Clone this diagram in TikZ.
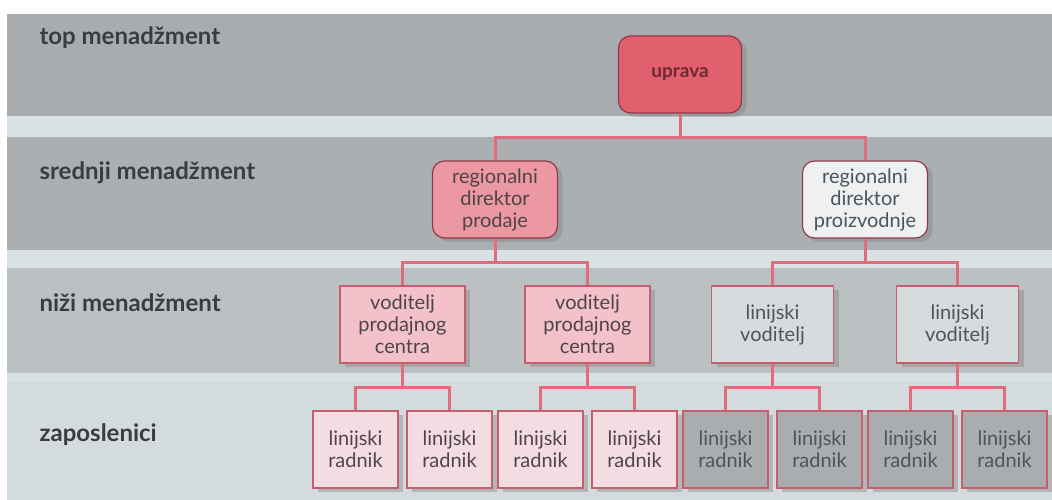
\documentclass[tikz,border=0pt]{standalone}
\usepackage{fontspec}
\setmainfont{Lato}
\usepackage{tikz}
\usetikzlibrary{trees}
\usetikzlibrary{shapes, positioning, shadows}

\definecolor{pagebg}{HTML}{DAE1E4}
\definecolor{bandtop}{HTML}{A8ACAE}
\definecolor{bandmid}{HTML}{ABAFB1}
\definecolor{bandlow}{HTML}{BBC0C2}
\definecolor{bandbase}{HTML}{D4DBDE}
\definecolor{linkred}{HTML}{E06D7C}
\definecolor{rimdark}{HTML}{8E3A48}
\definecolor{rimpink}{HTML}{C75E6E}
\definecolor{upravared}{HTML}{E2606E}
\definecolor{prodajapink}{HTML}{EC98A3}
\definecolor{proizvwhite}{HTML}{EEF0F2}
\definecolor{centarpink}{HTML}{F2C1C9}
\definecolor{linijagray}{HTML}{D6DBDE}
\definecolor{radnikpink}{HTML}{F3DDE2}
\definecolor{radnikgray}{HTML}{A9ADB0}
\definecolor{textred}{HTML}{6E2A33}
\definecolor{textdark}{HTML}{4F4548}
\definecolor{textgray}{HTML}{4E5457}
\definecolor{labelgray}{HTML}{3A3C3E}

\begin{document}
\begin{tikzpicture}[
  x=1pt, y=1pt,
  grow=down,
  level distance=125pt,
  level 1/.style={sibling distance=370pt},
  level 2/.style={sibling distance=185pt},
  level 3/.style={sibling distance=94pt},
  edge from parent/.style={draw=linkred, line width=3pt},
  edge from parent path={(\tikzparentnode.south) -- ++(0,-24) -| (\tikzchildnode.north)},
  every node/.style={align=center},
  boxbase/.style={draw, line width=1.2pt, minimum height=77pt, inner sep=2pt,
    font=\fontsize{20}{22}\selectfont,
    drop shadow={shadow xshift=5pt, shadow yshift=-4pt, opacity=0.4}},
  topbox/.style={boxbase, rounded corners=12pt, draw=rimdark, fill=upravared,
    minimum width=123pt, text=textred, font=\fontsize{19}{22}\selectfont\bfseries},
  regionbox/.style={boxbase, rounded corners=12pt, draw=rimdark, minimum width=125pt},
  centarbox/.style={boxbase, draw=rimpink, fill=centarpink, minimum width=125pt, text=textdark},
  linijabox/.style={boxbase, draw=rimpink, fill=linijagray, minimum width=122pt, text=textgray},
  radnikbox/.style={boxbase, draw=rimpink, minimum width=85pt},
  level label/.style={anchor=base west, text=labelgray,
    font=\fontsize{24}{28}\selectfont\bfseries}
]

% page and bands
\useasboundingbox (0,0) rectangle (1052,500);
\fill[white] (0,0) rectangle (1052,500);
\fill[pagebg] (7,0) rectangle (1052,486);
\fill[bandtop] (7,384) rectangle (1052,486);
\fill[bandmid] (7,250) rectangle (1052,363);
\fill[bandlow] (7,127) rectangle (1052,232);
\fill[bandbase] (7,0) rectangle (1052,118);

% level names
\node[level label] (topL) at (36,455) {top menadžment};
\node[level label] (srednjiL) at (36,320) {srednji menadžment};
\node[level label] (niziL) at (36,188) {niži menadžment};
\node[level label] (zaposleniciL) at (36,58) {zaposlenici};

% the organisation tree
\node[topbox] (uprava) at (680,425.5) {uprava}
  child {
    node[regionbox, fill=prodajapink, text=textdark] (prodaja) {regionalni\\direktor\\prodaje}
    child {
      node[centarbox] (centarA) {voditelj\\prodajnog\\centra}
      child {node[radnikbox, fill=radnikpink, text=textdark] (radnikA) {linijski\\radnik}}
      child {node[radnikbox, fill=radnikpink, text=textdark] (radnikB) {linijski\\radnik}}
    }
    child {
      node[centarbox] (centarB) {voditelj\\prodajnog\\centra}
      child {node[radnikbox, fill=radnikpink, text=textdark] (radnikC) {linijski\\radnik}}
      child {node[radnikbox, fill=radnikpink, text=textdark] (radnikD) {linijski\\radnik}}
    }
  }
  child {
    node[regionbox, fill=proizvwhite, text=textgray] (proizvodnja) {regionalni\\direktor\\proizvodnje}
    child {
      node[linijabox] (linijaA) {linijski\\voditelj}
      child {node[radnikbox, fill=radnikgray, text=textgray] (radnikE) {linijski\\radnik}}
      child {node[radnikbox, fill=radnikgray, text=textgray] (radnikF) {linijski\\radnik}}
    }
    child {
      node[linijabox] (linijaB) {linijski\\voditelj}
      child {node[radnikbox, fill=radnikgray, text=textgray] (radnikG) {linijski\\radnik}}
      child {node[radnikbox, fill=radnikgray, text=textgray] (radnikH) {linijski\\radnik}}
    }
  };

\end{tikzpicture}
\end{document}
